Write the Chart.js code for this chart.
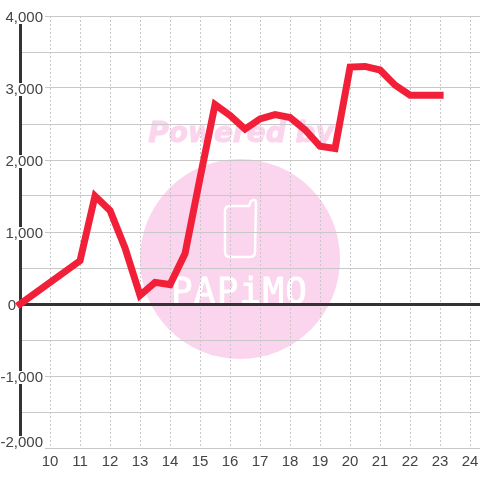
<!DOCTYPE html>
<html>
<head>
<meta charset="utf-8">
<script src="https://cdn.jsdelivr.net/npm/chart.js@4"></script>
<style>
  html, body { margin: 0; padding: 0; background: #fff; }
  #wrap { width: 480px; height: 480px; }
</style>
</head>
<body>
<div id="wrap"><canvas id="chart"></canvas></div>
<script>
const hours = [9, 11, 11.5, 12, 12.5, 13, 13.5, 14, 14.5, 15, 15.5, 16, 16.5, 17, 17.5, 18, 18.5, 19, 19.5, 20, 20.5, 21, 21.5, 22, 22.5, 23];
const values = [0, 600, 1500, 1300, 780, 120, 300, 270, 700, 1750, 2770, 2620, 2430, 2570, 2630, 2590, 2420, 2190, 2160, 3290, 3300, 3250, 3040, 2900, 2900, 2900];
const yLabelValues = [4000, 3000, 2000, 1000, 0, -1000, -2000];
const xTicks = [9, 10, 11, 12, 13, 14, 15, 16, 17, 18, 19, 20, 21, 22, 23, 24];
const watermarkTop = "Powered by";
const watermarkBottom = "PAPiMO";

const FONT = '"Liberation Sans", Arial, sans-serif';
const TEXT_COLOR = "#444";

// Pink logo sits under the grid
const watermark = {
  id: "watermark",
  beforeDraw(chart) {
    const c = chart.ctx;
    c.save();
    c.fillStyle = "#fbd5ed";
    c.strokeStyle = "#fbd5ed";
    c.beginPath();
    c.arc(240, 259, 100, 0, Math.PI * 2);
    c.fill();
    c.font = 'italic bold 28px "DejaVu Sans"';
    c.textAlign = "center";
    c.textBaseline = "middle";
    c.lineWidth = 1;
    c.fillText(watermarkTop, 241, 135);
    c.strokeText(watermarkTop, 241, 135);
    // phone outline
    c.strokeStyle = "#fff";
    c.lineWidth = 2.5;
    c.lineJoin = "round";
    c.beginPath();
    c.moveTo(230, 206);
    c.lineTo(249, 206);
    c.lineTo(251, 201);
    c.quadraticCurveTo(256, 198, 256, 203);
    c.lineTo(255, 252);
    c.quadraticCurveTo(255, 257, 250, 257);
    c.lineTo(230, 257);
    c.quadraticCurveTo(225, 257, 225, 252);
    c.lineTo(225, 211);
    c.quadraticCurveTo(225, 206, 230, 206);
    c.stroke();
    c.fillStyle = "#fff";
    c.font = '36px "DejaVu Sans Mono"';
    c.letterSpacing = "1.2px";
    c.textAlign = "left";
    c.textBaseline = "alphabetic";
    c.lineWidth = 0.8;
    c.fillText(watermarkBottom, 171, 303);
    c.strokeText(watermarkBottom, 171, 303);
    c.restore();
  },
};

// Y labels sit inside the plot on a white box, "0" goes left of the axis
const yLabels = {
  id: "yLabels",
  beforeDatasetsDraw(chart) {
    const c = chart.ctx;
    const y = chart.scales.y;
    c.save();
    c.font = "15px " + FONT;
    c.textBaseline = "middle";
    yLabelValues.forEach((v) => {
      // bottom label is pushed up so it stays above the x labels
      const py = y.getPixelForValue(v) - (v === -2000 ? 7 : 0);
      const isZero = v === 0;
      c.fillStyle = "#fff";
      if (!isZero) c.fillRect(0, py - 5, 45, 13);
      c.fillStyle = TEXT_COLOR;
      c.textAlign = isZero ? "center" : "right";
      c.fillText(v.toLocaleString("en-US"), isZero ? 12 : 43, py + 2);
    });
    c.restore();
  },
};

new Chart(document.getElementById("chart"), {
  type: "line",
  data: {
    datasets: [
      {
        data: hours.map((h, i) => ({ x: h, y: values[i] })),
        borderColor: "#f12038",
        borderWidth: 7,
        pointRadius: 0,
        tension: 0,
        borderCapStyle: "square",
        borderJoinStyle: "miter",
        clip: false,
      },
    ],
  },
  options: {
    responsive: true,
    maintainAspectRatio: false,
    animation: false,
    layout: { padding: { top: 16 } },
    plugins: {
      legend: { display: false },
      tooltip: { enabled: false },
    },
    scales: {
      x: {
        type: "linear",
        min: 9,
        max: 24.33,
        afterBuildTicks: (scale) => {
          scale.ticks = xTicks.map((value) => ({ value }));
        },
        afterFit: (scale) => {
          scale.height = 32;
          scale.paddingLeft = 0;
          scale.paddingRight = 0;
        },
        border: { display: false, dash: [2, 2] },
        grid: {
          color: (ctx) => (ctx.tick && ctx.tick.value === 9 ? "rgba(0,0,0,0)" : "#c8c8c8"),
          drawTicks: false,
        },
        ticks: {
          color: TEXT_COLOR,
          font: { family: FONT, size: 15 },
          padding: 5,
          maxRotation: 0,
          autoSkip: false,
          callback: (v) => (v === 9 ? "" : v),
        },
      },
      y: {
        min: -2000,
        max: 4000,
        afterFit: (scale) => {
          scale.width = 20;
        },
        border: { color: "#333", width: 3 },
        grid: {
          color: (ctx) => (ctx.tick && ctx.tick.value === 0 ? "#333" : "#c8c8c8"),
          lineWidth: (ctx) => (ctx.tick && ctx.tick.value === 0 ? 3 : 1),
          drawTicks: false,
        },
        ticks: { stepSize: 500, display: false },
      },
    },
  },
  plugins: [watermark, yLabels],
});
</script>
</body>
</html>
